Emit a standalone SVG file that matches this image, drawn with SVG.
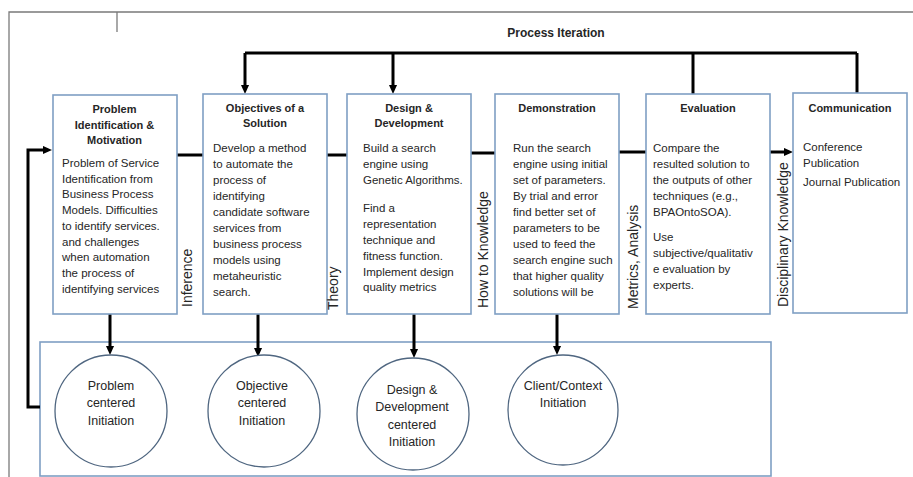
<svg xmlns="http://www.w3.org/2000/svg" width="913" height="477" viewBox="0 0 913 477">
<style>
.frame{fill:none;stroke:#7a7a7a;stroke-width:1.3}
.box{fill:#fff;stroke:#7f9fc4;stroke-width:1.6}
.cont{fill:#fff;stroke:#7f9fc4;stroke-width:1.6}
.circ{fill:#fff;stroke:#4f6680;stroke-width:1.3}
.conn{fill:none;stroke:#000;stroke-width:3}
.t{font-family:"Liberation Sans",Arial,sans-serif;fill:#262626}
.title{font-weight:bold;font-size:11px;text-anchor:middle}
.body{font-size:11.5px}
.lab{font-size:14px}
.ct{font-size:12.5px;text-anchor:middle}
.pi{font-weight:bold;font-size:12px;text-anchor:middle}
</style>
<defs>
<marker id="ah" viewBox="0 0 10 10" refX="5" refY="5" markerWidth="9" markerHeight="9" markerUnits="userSpaceOnUse" orient="auto">
<path d="M0,0.5 L10,5 L0,9.5 z" fill="#000"/>
</marker>
</defs>
<rect width="913" height="477" fill="#fff"/>
<g id="frame">
<path class="frame" d="M9,477 V12 H913"/>
<path class="frame" d="M117,12 V32"/>
</g>
<g id="container"><rect class="cont" x="40" y="342" width="731" height="134"/></g>
<g id="connectors">
<path class="conn" d="M245,53 H857"/>
<path class="conn" d="M245,53 V89.5" marker-end="url(#ah)"/>
<path class="conn" d="M393,53 V89.5" marker-end="url(#ah)"/>
<path class="conn" d="M693,53 V94"/>
<path class="conn" d="M857,53 V93"/>
<path class="conn" d="M177,155 H203"/>
<path class="conn" d="M327,155 H347"/>
<path class="conn" d="M471,153 H495"/>
<path class="conn" d="M619,152 H646"/>
<path class="conn" d="M770,152 H788.5" marker-end="url(#ah)"/>
<path class="conn" d="M40,407 H28 V150 H47.5" marker-end="url(#ah)"/>
<path class="conn" d="M110,314 V350.5" marker-end="url(#ah)"/>
<path class="conn" d="M258,314 V352.5" marker-end="url(#ah)"/>
<path class="conn" d="M414,314 V353.5" marker-end="url(#ah)"/>
<path class="conn" d="M557,314 V350.5" marker-end="url(#ah)"/>
</g>
<text class="t pi" x="556" y="37">Process Iteration</text>
<g id="problem">
<rect class="box" x="53" y="95" width="124" height="219"/>
<text class="t title"><tspan x="114.5" y="113">Problem</tspan><tspan x="114.5" y="129">Identification &amp;</tspan><tspan x="114.5" y="144">Motivation</tspan></text>
<text class="t body"><tspan x="62" y="167">Problem of Service</tspan><tspan x="62" y="183">Identification from</tspan><tspan x="62" y="198">Business Process</tspan><tspan x="62" y="214">Models. Difficulties</tspan><tspan x="62" y="230">to identify services.</tspan><tspan x="62" y="246">and challenges</tspan><tspan x="62" y="261">when automation</tspan><tspan x="62" y="277">the process of</tspan><tspan x="62" y="293">identifying services</tspan></text>
</g>
<g id="objectives">
<rect class="box" x="203" y="94" width="124" height="220"/>
<text class="t title"><tspan x="265" y="112">Objectives of a</tspan><tspan x="265" y="127">Solution</tspan></text>
<text class="t body"><tspan x="213" y="152">Develop a method</tspan><tspan x="213" y="168">to automate the</tspan><tspan x="213" y="184">process of</tspan><tspan x="213" y="200">identifying</tspan><tspan x="213" y="216">candidate software</tspan><tspan x="213" y="232">services from</tspan><tspan x="213" y="248">business process</tspan><tspan x="213" y="264">models using</tspan><tspan x="213" y="280">metaheuristic</tspan><tspan x="213" y="296">search.</tspan></text>
</g>
<g id="design">
<rect class="box" x="347" y="94" width="124" height="220"/>
<text class="t title"><tspan x="409" y="112">Design &amp;</tspan><tspan x="409" y="127">Development</tspan></text>
<text class="t body"><tspan x="363" y="152">Build a search</tspan><tspan x="363" y="168">engine using</tspan><tspan x="363" y="184">Genetic Algorithms.</tspan><tspan x="363" y="212">Find a</tspan><tspan x="363" y="228">representation</tspan><tspan x="363" y="244">technique and</tspan><tspan x="363" y="260">fitness function.</tspan><tspan x="363" y="276">Implement design</tspan><tspan x="363" y="291">quality metrics</tspan></text>
</g>
<g id="demonstration">
<rect class="box" x="495" y="94" width="124" height="220"/>
<text class="t title"><tspan x="557" y="112">Demonstration</tspan></text>
<text class="t body"><tspan x="513" y="152">Run the search</tspan><tspan x="513" y="168">engine using initial</tspan><tspan x="513" y="184">set of parameters.</tspan><tspan x="513" y="200">By trial and error</tspan><tspan x="513" y="216">find better set of</tspan><tspan x="513" y="232">parameters to be</tspan><tspan x="513" y="248">used to feed the</tspan><tspan x="513" y="264">search engine such</tspan><tspan x="513" y="280">that higher quality</tspan><tspan x="513" y="296">solutions will be</tspan></text>
</g>
<g id="evaluation">
<rect class="box" x="646" y="94" width="124" height="220"/>
<text class="t title"><tspan x="708" y="112">Evaluation</tspan></text>
<text class="t body"><tspan x="653" y="152">Compare the</tspan><tspan x="653" y="168">resulted solution to</tspan><tspan x="653" y="184">the outputs of other</tspan><tspan x="653" y="200">techniques (e.g.,</tspan><tspan x="653" y="216">BPAOntoSOA).</tspan><tspan x="653" y="241">Use</tspan><tspan x="653" y="257">subjective/qualitativ</tspan><tspan x="653" y="273">e evaluation by</tspan><tspan x="653" y="289">experts.</tspan></text>
</g>
<g id="communication">
<rect class="box" x="793" y="93" width="114" height="220"/>
<text class="t title"><tspan x="850" y="112">Communication</tspan></text>
<text class="t body"><tspan x="803" y="151">Conference</tspan><tspan x="803" y="167">Publication</tspan><tspan x="803" y="186">Journal Publication</tspan></text>
</g>
<g id="labels">
<text class="t lab" transform="translate(192,307) rotate(-90)">Inference</text>
<text class="t lab" transform="translate(338,310) rotate(-90)">Theory</text>
<text class="t lab" transform="translate(488,308) rotate(-90)">How to Knowledge</text>
<text class="t lab" transform="translate(638,309) rotate(-90)">Metrics, Analysis</text>
<text class="t lab" transform="translate(788,307) rotate(-90)">Disciplinary Knowledge</text>
</g>
<g id="c-problem">
<circle class="circ" cx="111" cy="411" r="56"/>
<text class="t ct"><tspan x="111" y="390">Problem</tspan><tspan x="111" y="407">centered</tspan><tspan x="111" y="425">Initiation</tspan></text>
</g>
<g id="c-objective">
<circle class="circ" cx="264" cy="411" r="56"/>
<text class="t ct"><tspan x="262" y="390">Objective</tspan><tspan x="262" y="407">centered</tspan><tspan x="262" y="425">Initiation</tspan></text>
</g>
<g id="c-design">
<circle class="circ" cx="413" cy="414" r="56"/>
<text class="t ct"><tspan x="412" y="394">Design &amp;</tspan><tspan x="412" y="411">Development</tspan><tspan x="412" y="429">centered</tspan><tspan x="412" y="446">Initiation</tspan></text>
</g>
<g id="c-client">
<circle class="circ" cx="563" cy="410" r="55"/>
<text class="t ct"><tspan x="563" y="390">Client/Context</tspan><tspan x="563" y="407">Initiation</tspan></text>
</g>
</svg>
